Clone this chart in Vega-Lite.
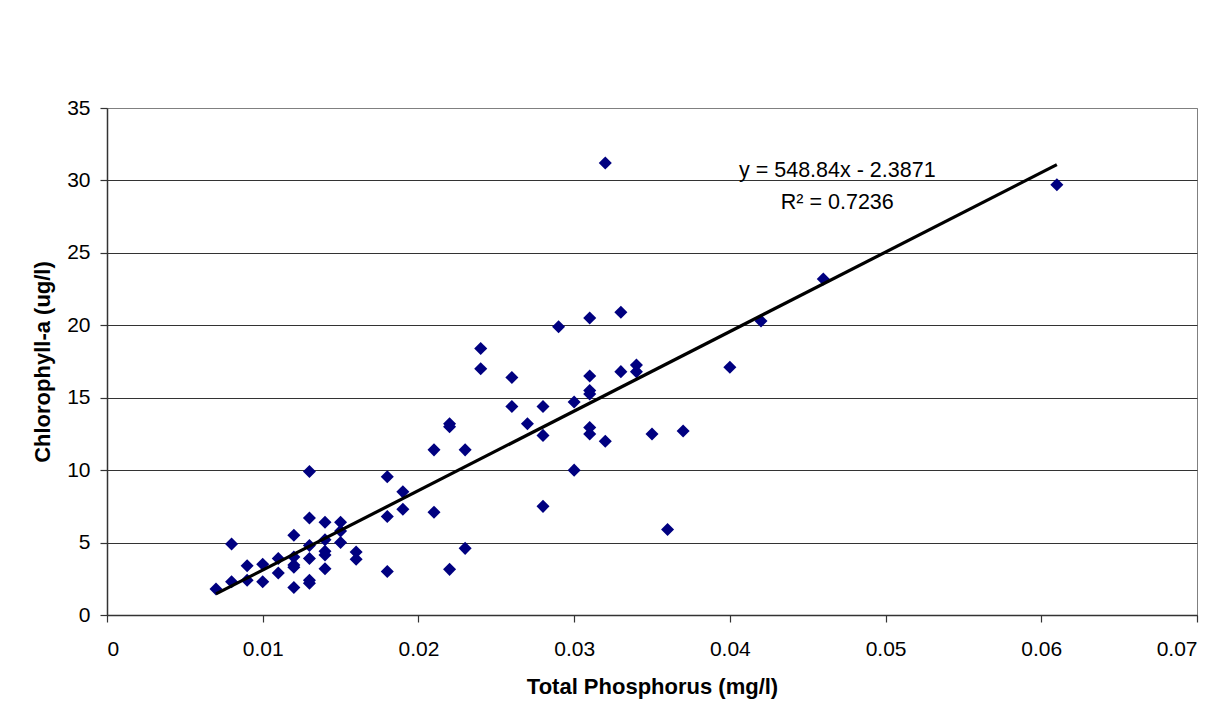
{
  "$schema": "https://vega.github.io/schema/vega-lite/v6.json",
  "width": 1090,
  "height": 507,
  "autosize": {"type": "none"},
  "padding": {"left": 107, "top": 108, "right": 35, "bottom": 96},
  "background": "white",
  "config": {
    "font": "Liberation Sans",
    "view": {"stroke": "#808080", "strokeWidth": 1},
    "axis": {
      "labelFont": "Liberation Sans",
      "titleFont": "Liberation Sans",
      "labelFontSize": 21,
      "titleFontSize": 22,
      "titleFontWeight": "bold",
      "labelColor": "black",
      "titleColor": "black",
      "domainColor": "#333333",
      "tickColor": "#333333",
      "tickSize": 7,
      "domainWidth": 1.5,
      "tickWidth": 1.2
    }
  },
  "datasets": {
    "obs": [
      {"tp": 0.007, "chla": 1.8},
      {"tp": 0.008, "chla": 4.9},
      {"tp": 0.008, "chla": 2.3},
      {"tp": 0.009, "chla": 3.4},
      {"tp": 0.009, "chla": 2.4},
      {"tp": 0.010, "chla": 3.5},
      {"tp": 0.010, "chla": 2.3},
      {"tp": 0.011, "chla": 3.9},
      {"tp": 0.011, "chla": 2.9},
      {"tp": 0.012, "chla": 5.5},
      {"tp": 0.012, "chla": 4.0},
      {"tp": 0.012, "chla": 3.45},
      {"tp": 0.012, "chla": 3.3},
      {"tp": 0.012, "chla": 1.9},
      {"tp": 0.013, "chla": 9.9},
      {"tp": 0.013, "chla": 6.7},
      {"tp": 0.013, "chla": 4.8},
      {"tp": 0.013, "chla": 3.9},
      {"tp": 0.013, "chla": 2.4},
      {"tp": 0.013, "chla": 2.2},
      {"tp": 0.014, "chla": 6.4},
      {"tp": 0.014, "chla": 5.2},
      {"tp": 0.014, "chla": 4.4},
      {"tp": 0.014, "chla": 4.15},
      {"tp": 0.014, "chla": 3.2},
      {"tp": 0.015, "chla": 6.4},
      {"tp": 0.015, "chla": 5.8},
      {"tp": 0.015, "chla": 5.0},
      {"tp": 0.016, "chla": 4.35},
      {"tp": 0.016, "chla": 3.85},
      {"tp": 0.018, "chla": 9.55},
      {"tp": 0.018, "chla": 6.8},
      {"tp": 0.018, "chla": 3.0},
      {"tp": 0.019, "chla": 8.5},
      {"tp": 0.019, "chla": 7.3},
      {"tp": 0.021, "chla": 11.4},
      {"tp": 0.021, "chla": 7.1},
      {"tp": 0.022, "chla": 13.2},
      {"tp": 0.022, "chla": 13.0},
      {"tp": 0.022, "chla": 3.15},
      {"tp": 0.023, "chla": 11.4},
      {"tp": 0.023, "chla": 4.6},
      {"tp": 0.024, "chla": 18.4},
      {"tp": 0.024, "chla": 17.0},
      {"tp": 0.026, "chla": 16.4},
      {"tp": 0.026, "chla": 14.4},
      {"tp": 0.027, "chla": 13.2},
      {"tp": 0.028, "chla": 14.4},
      {"tp": 0.028, "chla": 12.4},
      {"tp": 0.028, "chla": 7.5},
      {"tp": 0.029, "chla": 19.9},
      {"tp": 0.030, "chla": 14.7},
      {"tp": 0.030, "chla": 10.0},
      {"tp": 0.031, "chla": 20.5},
      {"tp": 0.031, "chla": 16.5},
      {"tp": 0.031, "chla": 15.5},
      {"tp": 0.031, "chla": 15.25},
      {"tp": 0.031, "chla": 12.95},
      {"tp": 0.031, "chla": 12.5},
      {"tp": 0.032, "chla": 31.2},
      {"tp": 0.032, "chla": 12.0},
      {"tp": 0.033, "chla": 20.9},
      {"tp": 0.033, "chla": 16.8},
      {"tp": 0.034, "chla": 17.25},
      {"tp": 0.034, "chla": 16.8},
      {"tp": 0.035, "chla": 12.5},
      {"tp": 0.036, "chla": 5.9},
      {"tp": 0.037, "chla": 12.7},
      {"tp": 0.040, "chla": 17.1},
      {"tp": 0.042, "chla": 20.3},
      {"tp": 0.046, "chla": 23.2},
      {"tp": 0.061, "chla": 29.7}
    ],
    "trend": [
      {"tp": 0.007, "chla": 1.455},
      {"tp": 0.061, "chla": 31.091}
    ],
    "labels": [
      {"tp": 0.0469, "chla": 30.24, "label": "y = 548.84x - 2.3871"},
      {"tp": 0.0469, "chla": 28.0, "label": "R² = 0.7236"}
    ]
  },
  "layer": [
    {
      "data": {"name": "obs"},
      "mark": {"type": "point", "shape": "diamond", "filled": true, "size": 170, "color": "#000080", "opacity": 1},
      "encoding": {
        "x": {
          "field": "tp",
          "type": "quantitative",
          "scale": {"domain": [0, 0.07], "nice": false, "zero": true},
          "axis": {
            "title": "Total Phosphorus (mg/l)",
            "values": [0, 0.01, 0.02, 0.03, 0.04, 0.05, 0.06, 0.07],
            "format": ".2~f",
            "grid": false,
            "labelPadding": 16,
            "titleY": 78,
            "titleBaseline": "alphabetic"
          }
        },
        "y": {
          "field": "chla",
          "type": "quantitative",
          "scale": {"domain": [0, 35], "nice": false},
          "axis": {
            "title": "Chlorophyll-a (ug/l)",
            "values": [0, 5, 10, 15, 20, 25, 30, 35],
            "grid": true,
            "gridColor": {"condition": {"test": "datum.value === 35", "value": "#808080"}, "value": "#333333"},
            "gridWidth": 1.2,
            "labelPadding": 10,
            "titleX": -65,
            "titleBaseline": "middle"
          }
        }
      }
    },
    {
      "data": {"name": "trend"},
      "mark": {"type": "line", "color": "black", "strokeWidth": 3.2},
      "encoding": {
        "x": {"field": "tp", "type": "quantitative"},
        "y": {"field": "chla", "type": "quantitative"}
      }
    },
    {
      "data": {"name": "labels"},
      "mark": {"type": "text", "fontSize": 21.5, "font": "Liberation Sans", "align": "center", "baseline": "alphabetic", "color": "black"},
      "encoding": {
        "x": {"field": "tp", "type": "quantitative"},
        "y": {"field": "chla", "type": "quantitative"},
        "text": {"field": "label", "type": "nominal"}
      }
    }
  ]
}
